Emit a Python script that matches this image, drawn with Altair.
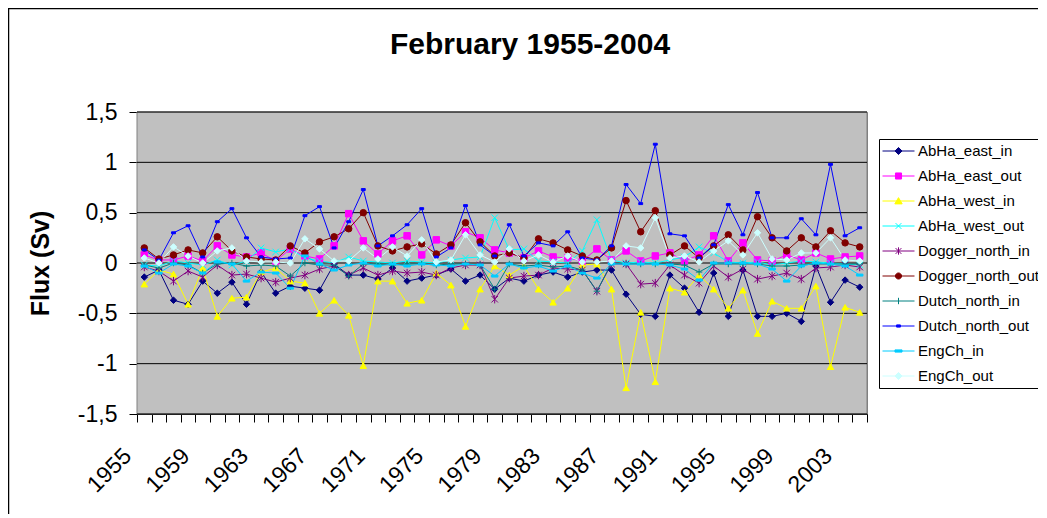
import altair as alt
import pandas as pd

years = [str(y) for y in range(1955, 2005)]

series_names = ["AbHa_east_in", "AbHa_east_out", "AbHa_west_in", "AbHa_west_out",
                "Dogger_north_in", "Dogger_north_out", "Dutch_north_in",
                "Dutch_north_out", "EngCh_in", "EngCh_out"]

abha_east_in = [-0.14, -0.07, -0.37, -0.41, -0.18, -0.30, -0.19, -0.41, -0.09, -0.30,
                -0.23, -0.25, -0.27, -0.01, -0.12, -0.12, -0.16, -0.05, -0.18, -0.15,
                -0.12, -0.06, -0.18, -0.12, -0.26, -0.15, -0.18, -0.12, -0.09, -0.14,
                -0.09, -0.07, -0.07, -0.31, -0.51, -0.53, -0.12, -0.25, -0.49, -0.10,
                -0.53, -0.07, -0.53, -0.53, -0.50, -0.58, -0.03, -0.39, -0.17, -0.24]
abha_east_out = [0.08, 0.03, 0.03, 0.07, 0.02, 0.17, 0.08, 0.06, 0.10, 0.02,
                 0.14, 0.07, 0.04, 0.17, 0.49, 0.22, 0.09, 0.22, 0.27, 0.08,
                 0.23, 0.17, 0.31, 0.25, 0.13, 0.10, 0.05, 0.12, 0.06, 0.05,
                 0.02, 0.14, 0.03, 0.12, 0.02, 0.07, 0.10, 0.02, 0.08, 0.27,
                 0.02, 0.20, 0.03, 0.02, 0.08, 0.03, 0.10, 0.04, 0.06, 0.07]
abha_west_in = [-0.21, -0.07, -0.11, -0.41, -0.05, -0.53, -0.35, -0.34, -0.09, -0.05,
                -0.18, -0.20, -0.50, -0.37, -0.52, -1.02, -0.18, -0.18, -0.40, -0.37,
                -0.10, -0.22, -0.63, -0.26, -0.03, -0.12, -0.03, -0.26, -0.39, -0.25,
                -0.02, -0.01, -0.26, -1.24, -0.49, -1.18, -0.25, -0.29, -0.12, -0.26,
                -0.45, -0.27, -0.70, -0.38, -0.45, -0.45, -0.23, -1.03, -0.44, -0.49]
abha_west_out = [-0.02, -0.03, 0.02, 0.00, -0.02, 0.03, -0.02, 0.02, 0.15, 0.11,
                 0.14, 0.05, 0.02, 0.00, 0.06, 0.02, 0.01, 0.00, 0.02, 0.01,
                 0.00, 0.03, 0.05, 0.06, 0.45, 0.13, 0.14, 0.02, 0.01, 0.00,
                 0.12, 0.43, 0.03, 0.00, 0.01, 0.00, 0.03, 0.06, 0.16, 0.10,
                 0.01, 0.00, 0.01, -0.02, 0.00, 0.02, 0.01, 0.00, -0.01, -0.02]
dogger_north_in = [-0.04, -0.08, -0.18, -0.08, -0.14, -0.02, -0.12, -0.11, -0.15, -0.19,
                   -0.15, -0.12, -0.06, -0.03, -0.12, -0.05, -0.12, -0.08, -0.10, -0.09,
                   -0.12, -0.05, -0.02, -0.02, -0.36, -0.15, -0.13, -0.12, -0.05, -0.06,
                   -0.07, -0.28, -0.01, -0.01, -0.21, -0.20, -0.02, -0.12, -0.20, -0.03,
                   -0.14, -0.06, -0.16, -0.13, -0.10, -0.16, -0.05, -0.04, -0.02, -0.04]
dogger_north_out = [0.15, 0.04, 0.08, 0.13, 0.10, 0.26, 0.12, 0.06, 0.04, 0.03,
                    0.17, 0.10, 0.21, 0.26, 0.34, 0.50, 0.17, 0.12, 0.16, 0.19,
                    0.09, 0.18, 0.40, 0.21, 0.07, 0.10, 0.05, 0.24, 0.20, 0.13,
                    0.07, 0.03, 0.15, 0.62, 0.31, 0.52, 0.08, 0.17, 0.05, 0.17,
                    0.28, 0.13, 0.46, 0.25, 0.12, 0.25, 0.16, 0.32, 0.20, 0.16]
dutch_north_in = [-0.02, -0.05, 0.00, -0.02, -0.10, -0.01, 0.00, -0.03, -0.02, -0.03,
                  -0.13, 0.00, -0.02, -0.02, -0.13, -0.01, -0.01, -0.02, -0.01, -0.01,
                  -0.02, -0.01, -0.01, -0.02, -0.26, -0.01, -0.03, -0.02, -0.04, -0.03,
                  -0.07, -0.28, 0.00, -0.01, -0.01, -0.01, -0.01, -0.02, -0.09, -0.01,
                  -0.01, -0.01, -0.01, -0.03, -0.03, -0.02, -0.01, -0.01, -0.01, -0.01]
dutch_north_out = [0.13, 0.03, 0.30, 0.37, 0.06, 0.41, 0.54, 0.25, 0.06, 0.04,
                   0.05, 0.47, 0.56, 0.15, 0.41, 0.73, 0.17, 0.27, 0.38, 0.54,
                   0.06, 0.15, 0.57, 0.18, 0.07, 0.38, 0.07, 0.20, 0.17, 0.31,
                   0.05, 0.03, 0.17, 0.78, 0.59, 1.18, 0.29, 0.27, 0.05, 0.18,
                   0.58, 0.28, 0.70, 0.25, 0.25, 0.44, 0.28, 0.98, 0.27, 0.35]
engch_in = [-0.03, -0.10, -0.01, -0.03, -0.10, 0.01, -0.01, -0.18, -0.09, -0.10,
            -0.25, 0.07, -0.01, -0.07, -0.02, 0.00, -0.03, -0.01, -0.03, -0.01,
            -0.02, -0.03, -0.01, -0.02, -0.13, -0.01, -0.05, -0.03, -0.08, -0.03,
            -0.10, -0.15, -0.01, -0.01, -0.01, -0.01, -0.02, -0.06, -0.17, 0.00,
            0.00, 0.00, -0.01, -0.06, -0.18, -0.03, 0.00, -0.01, -0.03, -0.12]
engch_out = [0.05, 0.00, 0.16, 0.07, 0.00, 0.12, 0.15, 0.02, 0.01, 0.01,
             0.00, 0.24, 0.14, 0.02, 0.02, 0.15, 0.04, 0.16, 0.07, 0.23,
             0.01, 0.03, 0.28, 0.08, 0.01, 0.14, 0.02, 0.08, 0.01, 0.07,
             0.01, 0.01, 0.02, 0.17, 0.15, 0.45, 0.05, 0.07, 0.01, 0.12,
             0.22, 0.08, 0.30, 0.04, 0.03, 0.10, 0.10, 0.25, 0.03, 0.02]

y_ticks = [-1.5, -1.0, -0.5, 0.0, 0.5, 1.0, 1.5]

all_values = [abha_east_in, abha_east_out, abha_west_in, abha_west_out,
              dogger_north_in, dogger_north_out, dutch_north_in,
              dutch_north_out, engch_in, engch_out]

rows = []
for name, vals in zip(series_names, all_values):
    for yr, v in zip(years, vals):
        rows.append({"year": yr, "series": name, "value": v})
df = pd.DataFrame(rows)
grid_df = pd.DataFrame({"value": y_ticks})

colors = ["#000080", "#FF00FF", "#FFFF00", "#00FFFF", "#800080",
          "#800000", "#008080", "#0000FF", "#00CCFF", "#CCFFFF"]

plot_shapes = [
    "diamond",
    "square",
    "triangle-up",
    "M-1,-1L1,1M1,-1L-1,1",
    "M-1,-1L1,1M1,-1L-1,1M0,-1.3L0,1.3",
    "circle",
    "M-1,0L1,0M0,-1L0,1",
    "M-0.6,-0.3L0.6,-0.3L0.6,0.3L-0.6,0.3Z",
    "M-1,-0.3L1,-0.3L1,0.3L-1,0.3Z",
    "diamond",
]

legend_shapes = [
    "M-1,0L1,0M0,-0.22L0.22,0L0,0.22L-0.22,0Z",
    "M-1,0L1,0M-0.19,-0.19L0.19,-0.19L0.19,0.19L-0.19,0.19Z",
    "M-1,0L1,0M0,-0.21L0.23,0.18L-0.23,0.18Z",
    "M-1,0L1,0M-0.18,-0.18L0.18,0.18M0.18,-0.18L-0.18,0.18",
    "M-1,0L1,0M-0.18,-0.18L0.18,0.18M0.18,-0.18L-0.18,0.18M0,-0.23L0,0.23",
    "M-1,0L1,0M-0.19,0A0.19,0.19 0 1,0 0.19,0A0.19,0.19 0 1,0 -0.19,0Z",
    "M-1,0L1,0M0,-0.2L0,0.2",
    "M-1,0L1,0M-0.12,-0.07L0.12,-0.07L0.12,0.07L-0.12,0.07Z",
    "M-1,0L1,0M-0.22,-0.07L0.22,-0.07L0.22,0.07L-0.22,0.07Z",
    "M-1,0L1,0M0,-0.22L0.22,0L0,0.22L-0.22,0Z",
]

FONT = "Liberation Sans"

x_enc = alt.X(
    "year:O", sort=years, title=None, bandPosition=0.5,
    scale=alt.Scale(type="band", paddingInner=0, paddingOuter=0),
    axis=alt.Axis(
        labelExpr="(toNumber(datum.value) - 1955) % 4 == 0 ? datum.value : ''",
        labelAngle=-45, labelAlign="right", labelBaseline="middle",
        labelFont=FONT, labelFontSize=23, labelColor="black",
        labelOverlap=False, labelPadding=30, labelOffset=-17,
        tickBand="extent", tickColor="black", tickSize=8,
        domainColor="black", grid=False,
    ),
)
y_scale = alt.Scale(domain=[-1.5, 1.5], nice=False, zero=False)
y_enc = alt.Y(
    "value:Q", title="Flux (Sv)", scale=y_scale,
    axis=alt.Axis(
        values=y_ticks,
        labelExpr="(datum.value < 0 ? '-' : '') + replace(toString(abs(datum.value)), '.', ',')",
        labelFont=FONT, labelFontSize=23, labelColor="black", labelPadding=12,
        titleFont=FONT, titleFontSize=25, titleFontWeight="bold", titleColor="black",
        titlePadding=24, grid=False,
        tickColor="black", tickSize=8, domainColor="black",
    ),
)

color_scale = alt.Scale(domain=series_names, range=colors)

plot_bg = alt.Chart(pd.DataFrame({"k": [0]})).mark_rect(
    color="#C0C0C0", stroke="#808080", strokeWidth=1, opacity=1
).encode(
    x=alt.value(0), x2=alt.value(730), y=alt.value(0), y2=alt.value(302)
)

gridlines = alt.Chart(grid_df).mark_rule(color="black", strokeWidth=1).encode(
    y=y_enc
)

lines = alt.Chart(df).mark_line(strokeWidth=1, opacity=1).encode(
    x=x_enc, y=y_enc,
    stroke=alt.Stroke("series:N", scale=color_scale, legend=None),
)

points = alt.Chart(df).mark_point(size=42, strokeWidth=1, opacity=1, fillOpacity=1).encode(
    x=x_enc, y=y_enc,
    fill=alt.Fill("series:N", scale=color_scale, legend=None),
    stroke=alt.Stroke("series:N", scale=color_scale, legend=None),
    shape=alt.Shape("series:N", scale=alt.Scale(domain=series_names, range=plot_shapes), legend=None),
)

leg = alt.Legend(
    title=None, orient="none", legendX=742, legendY=27,
    labelFont=FONT, labelFontSize=15, labelColor="black", labelOffset=3,
    symbolSize=1024, symbolStrokeWidth=1, symbolOpacity=1,
    strokeColor="black", fillColor="white", padding=3,
    rowPadding=7, clipHeight=18, labelLimit=300,
)

legend_layer = alt.Chart(df).transform_filter("false").mark_point(opacity=1, strokeWidth=1, fillOpacity=1).encode(
    fill=alt.Fill("series:N", scale=color_scale, legend=leg),
    stroke=alt.Stroke("series:N", scale=color_scale, legend=leg),
    shape=alt.Shape("series:N", scale=alt.Scale(domain=series_names, range=legend_shapes), legend=leg),
)

border = alt.Chart(pd.DataFrame({"k": [0]})).mark_rect(
    fillOpacity=0, stroke="black", strokeWidth=1.5, clip=False
).encode(
    x=alt.value(-128.5), x2=alt.value(3000), y=alt.value(-103.5), y2=alt.value(3000)
)

chart = alt.layer(plot_bg, gridlines, lines, points, legend_layer, border).resolve_scale(
    fill="independent", stroke="independent", shape="independent"
).properties(
    width=730, height=302,
    background="white",
    title=alt.TitleParams("February 1955-2004", font=FONT, fontSize=30, fontWeight="bold",
                          color="black", anchor="middle", frame="group", baseline="alphabetic",
                          dx=28, dy=76, offset=0),
    autosize=alt.AutoSizeParams(type="none"),
    padding={"left": 129, "top": 104, "right": 171, "bottom": 100},
).configure_view(
    fill="#C0C0C0", stroke="#808080", strokeWidth=1
)

chart.save("out.html", embed_options={"renderer": "svg", "actions": False})
